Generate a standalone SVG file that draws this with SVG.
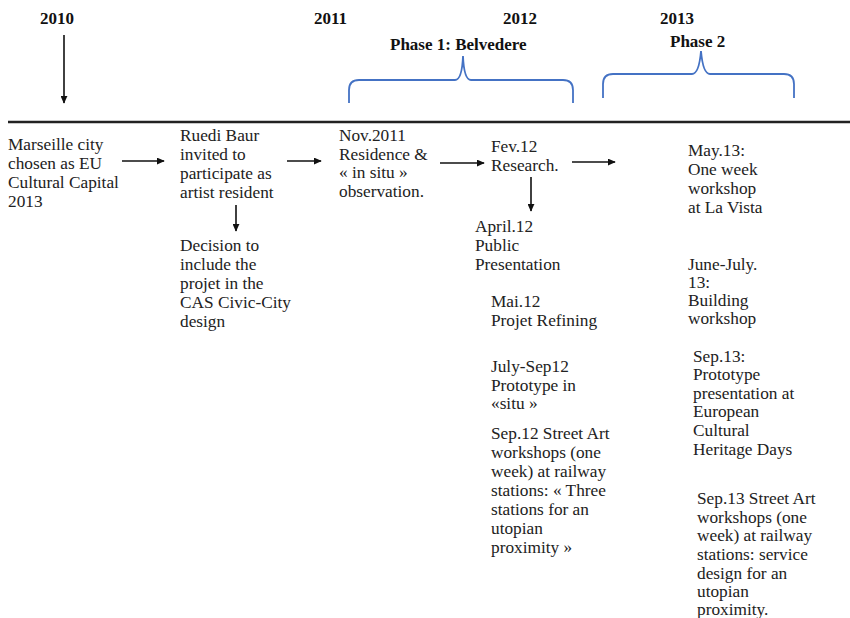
<svg xmlns="http://www.w3.org/2000/svg" width="850" height="618" viewBox="0 0 850 618">
<defs>
<marker id="ah" viewBox="0 0 10 10" refX="9" refY="5" markerWidth="8" markerHeight="7" markerUnits="userSpaceOnUse" orient="auto" preserveAspectRatio="none">
<path d="M0,0 L10,5 L0,10 z" fill="#111"/>
</marker>
<style>
text{font-family:"Liberation Serif","Times New Roman",serif;font-size:17.3px;fill:#222}
.h{font-weight:bold;fill:#111;font-size:17px}
.a{stroke:#111;stroke-width:1.6;fill:none;marker-end:url(#ah)}
.b{stroke:#4472C4;stroke-width:1.8;fill:none}
</style>
</defs>
<rect width="850" height="618" fill="#fff"/>
<g id="headers">
<text class="h" x="40" y="24">2010</text>
<text class="h" x="314" y="24">2011</text>
<text class="h" x="503" y="24">2012</text>
<text class="h" x="660" y="24">2013</text>
<text class="h" x="390" y="50">Phase 1: Belvedere</text>
<text class="h" x="670" y="47">Phase 2</text>
</g>
<g id="timeline">
<line x1="8" y1="122" x2="850" y2="122" stroke="#222" stroke-width="2.4"/>
</g>
<g id="brace1">
<path class="b" d="M349,103 L349,90 Q349,80 359,80 L455,80 Q462,80 463,56 Q464,80 471,80 L563,80 Q573,80 573,90 L573,103"/>
</g>
<g id="brace2">
<path class="b" d="M603,98 L603,84 Q603,74 613,74 L692,74 Q699,74 701,51 Q703,74 710,74 L784,74 Q794,74 794,84 L794,98"/>
</g>
<g id="connectors">
<line class="a" x1="64" y1="35" x2="64" y2="103"/>
<line class="a" x1="122" y1="161" x2="164" y2="161"/>
<line class="a" x1="236" y1="205" x2="236" y2="231"/>
<line class="a" x1="287" y1="161" x2="321" y2="161"/>
<line class="a" x1="440" y1="163" x2="484" y2="163"/>
<line class="a" x1="531" y1="177" x2="531" y2="211"/>
<line class="a" x1="572" y1="162" x2="615" y2="162"/>
</g>
<g id="n-marseille">
<text x="8" y="150">Marseille city</text>
<text x="8" y="169">chosen as EU</text>
<text x="8" y="188">Cultural Capital</text>
<text x="8" y="207">2013</text>
</g>
<g id="n-ruedi">
<text x="180" y="141">Ruedi Baur</text>
<text x="180" y="160">invited to</text>
<text x="180" y="179">participate as</text>
<text x="180" y="198">artist resident</text>
</g>
<g id="n-decision">
<text x="180" y="251">Decision to</text>
<text x="180" y="270">include the</text>
<text x="180" y="289">projet in the</text>
<text x="180" y="308">CAS Civic-City</text>
<text x="180" y="327">design</text>
</g>
<g id="n-nov2011">
<text x="339" y="141">Nov.2011</text>
<text x="339" y="160">Residence &amp;</text>
<text x="339" y="178">« in situ »</text>
<text x="339" y="197">observation.</text>
</g>
<g id="n-fev12">
<text x="491" y="152">Fev.12</text>
<text x="491" y="171">Research.</text>
</g>
<g id="n-april12">
<text x="475" y="232">April.12</text>
<text x="475" y="251">Public</text>
<text x="475" y="270">Presentation</text>
</g>
<g id="n-mai12">
<text x="491" y="307">Mai.12</text>
<text x="491" y="326">Projet Refining</text>
</g>
<g id="n-julysep12">
<text x="491" y="372">July-Sep12</text>
<text x="491" y="391">Prototype in</text>
<text x="491" y="409">«situ »</text>
</g>
<g id="n-sep12">
<text x="491" y="439">Sep.12 Street Art</text>
<text x="491" y="458">workshops (one</text>
<text x="491" y="477">week) at railway</text>
<text x="491" y="496">stations: « Three</text>
<text x="491" y="515">stations for an</text>
<text x="491" y="534">utopian</text>
<text x="491" y="553">proximity »</text>
</g>
<g id="n-may13">
<text x="688" y="156">May.13:</text>
<text x="688" y="175">One week</text>
<text x="688" y="194">workshop</text>
<text x="688" y="213">at La Vista</text>
</g>
<g id="n-junejuly13">
<text x="688" y="270">June-July.</text>
<text x="688" y="288">13:</text>
<text x="688" y="306">Building</text>
<text x="688" y="324">workshop</text>
</g>
<g id="n-sep13a">
<text x="693" y="362">Sep.13:</text>
<text x="693" y="380">Prototype</text>
<text x="693" y="399">presentation at</text>
<text x="693" y="417">European</text>
<text x="693" y="436">Cultural</text>
<text x="693" y="455">Heritage Days</text>
</g>
<g id="n-sep13b">
<text x="697" y="504">Sep.13 Street Art</text>
<text x="697" y="523">workshops (one</text>
<text x="697" y="541">week) at railway</text>
<text x="697" y="560">stations: service</text>
<text x="697" y="579">design for an</text>
<text x="697" y="597">utopian</text>
<text x="697" y="615">proximity.</text>
</g>
</svg>
